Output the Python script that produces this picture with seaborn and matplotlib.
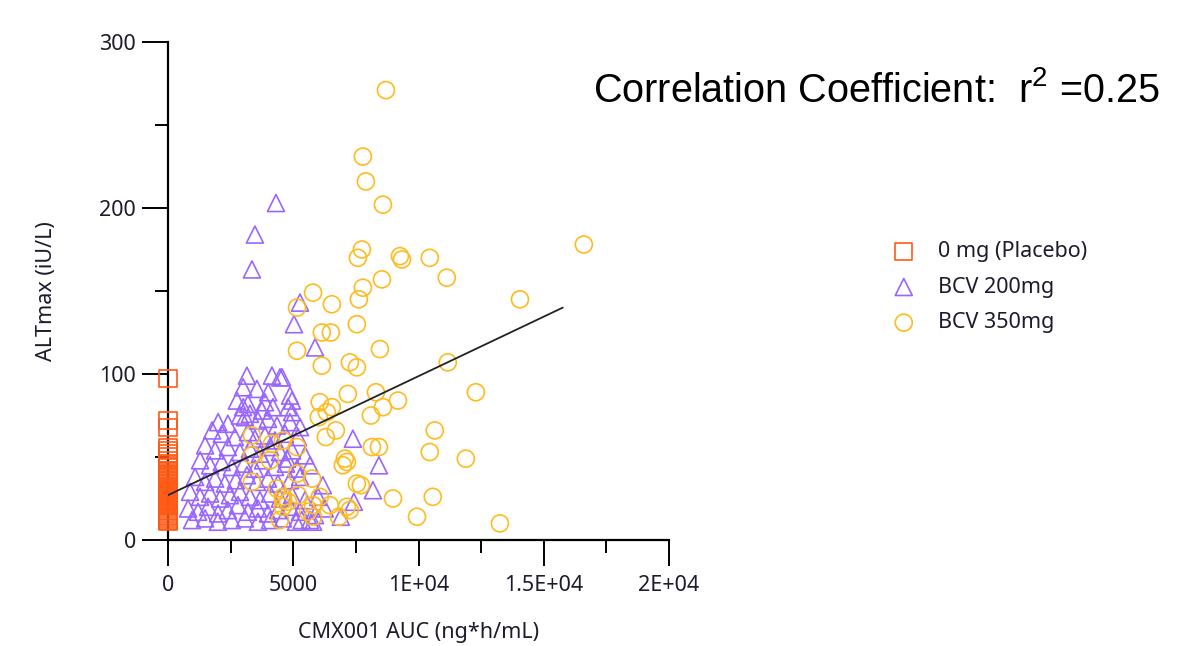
import pandas as pd
import numpy as np
import matplotlib
matplotlib.use('Agg')
import matplotlib.pyplot as plt
import seaborn as sns

# ALTmax vs CMX001 AUC
groups = ["0 mg (Placebo)", "BCV 200mg", "BCV 350mg"]
colors = ["#FF5A14", "#9966FF", "#FFBB1E"]
markers = ["s", "^", "o"]

placebo_alt = [97, 72, 68, 56, 54, 52, 50, 48, 46, 44, 42, 41, 40, 39, 38, 37, 36,
               35, 34, 33, 32, 31, 30, 29, 28, 27, 26, 25, 24, 23, 22, 21, 20,
               19, 18, 17, 16, 15, 14, 13, 12, 11]
placebo_auc = [0] * len(placebo_alt)

bcv200_auc = [4310, 3470, 3350, 5270, 5030, 5870, 7380, 8420, 8180, 6180, 7420, 6900,
              4950, 4950, 4750, 4550,
              3150, 4150, 4470,
              3000, 4000, 4870, 3550,
              2750, 3000, 3190, 3870, 4190, 4790, 3750,
              2000, 2390, 2870, 3070, 3270, 3590, 3990, 4350, 4870, 5270,
              1760, 2150, 2670, 3190, 3470, 3870, 4270, 4670, 5190,
              1480, 1880, 2390, 2870, 3270, 3670, 4070, 4470, 4950, 5470,
              1280, 1680, 2150, 2550, 3030, 3470, 3790, 4270, 4710, 5150, 5670,
              1080, 1480, 1880, 2270, 2710, 3150, 3550, 3990, 4390, 4870, 5270,
              880, 1280, 1680, 2080, 2470, 2870, 3270, 3670, 4070, 4470, 4950, 5470, 5990,
              800, 1200, 1600, 2000, 2390, 2790, 3190, 3590, 3990, 4390, 4870, 5270, 5870, 6260,
              960, 1480, 1990, 2550, 3070, 3590, 4070, 4590, 5110, 5670,
              5340, 5790]
bcv200_alt = [203, 184, 163, 143, 130, 116, 61, 45, 30, 33, 23, 14,
              84, 77, 49, 98,
              99, 99, 98,
              92, 89, 87, 91,
              84, 80, 82, 83, 80, 80, 78,
              71, 70, 75, 74, 76, 72, 73, 69, 71, 68,
              66, 64, 62, 65, 61, 63, 60, 64, 62,
              57, 54, 56, 53, 55, 52, 56, 53, 54, 51,
              48, 45, 47, 44, 46, 43, 48, 44, 46, 43, 45,
              38, 35, 37, 34, 36, 39, 35, 37, 34, 36, 38,
              29, 26, 28, 25, 27, 29, 26, 24, 28, 25, 27, 24, 26,
              19, 17, 20, 16, 18, 21, 17, 19, 16, 18, 20, 17, 15, 19,
              12, 13, 11, 12, 13, 11, 12, 13, 11, 12,
              12, 11]

bcv350_auc = [8700, 7780, 7900, 8580, 16600, 7740, 7580, 9260, 9340, 10450,
              11130, 8540, 7780, 5790, 7620, 14050, 6540, 5150, 7540, 6140,
              6500, 5150, 8460, 6140, 7260, 7540, 11170, 7180, 8300, 12290,
              9180, 6060, 8580, 6540, 6340, 6020, 8100, 6700, 10650, 6300,
              5150, 8140, 8420, 10450, 11890, 7060, 7140, 6980, 5150, 5750,
              7540, 7700, 8980, 10570, 9940, 13250, 6460, 6060, 7140, 7260,
              6820, 5790, 5590, 5790, 4590, 4590, 4790, 5190,
              3350, 4150, 4590, 3350, 4070, 3350, 4350, 4590, 4470]
bcv350_alt = [271, 231, 216, 202, 178, 175, 170, 171, 169, 170,
              158, 157, 152, 149, 145, 145, 142, 140, 130, 125,
              125, 114, 115, 105, 107, 104, 107, 88, 89, 89,
              84, 83, 80, 80, 77, 74, 75, 66, 66, 62,
              56, 56, 56, 53, 49, 49, 47, 45, 40, 37,
              34, 33, 25, 26, 14, 10, 21, 26, 20, 18,
              14, 21, 17, 14, 26, 20, 23, 27,
              63, 58, 60, 51, 48, 35, 31, 24, 12]

# fitted regression line end points
fit_auc = [0, 15760]
fit_alt = [27, 140]
r2_text = r"Correlation Coefficient:  r$^{2}$ =0.25"

x_ticks = [0, 5000, 10000, 15000, 20000]
x_labels = ["0", "5000", "1E+04", "1.5E+04", "2E+04"]
y_ticks = [0, 100, 200, 300]

df = pd.DataFrame({
    "auc": placebo_auc + bcv200_auc + bcv350_auc,
    "alt": placebo_alt + bcv200_alt + bcv350_alt,
    "group": [groups[0]] * len(placebo_alt) + [groups[1]] * len(bcv200_alt)
             + [groups[2]] * len(bcv350_alt),
})

sns.set_theme(style="white")
plt.rcParams['font.family'] = ['Noto Sans', 'DejaVu Sans']
plt.rcParams['mathtext.fontset'] = 'custom'
plt.rcParams['mathtext.rm'] = 'Liberation Sans'
plt.rcParams['mathtext.it'] = 'Liberation Sans'
plt.rcParams['mathtext.default'] = 'regular'
txt_color = "#1c1c2c"

fig = plt.figure(figsize=(11.97, 6.46), dpi=100)
W, H = 1197, 646
ax = fig.add_axes([168 / W, 1 - 540 / H, (669 - 168) / W, (540 - 42) / H])

for g, c, m in zip(groups, colors, markers):
    sub = df[df["group"] == g]
    sns.scatterplot(data=sub, x="auc", y="alt", marker=m, s=150,
                    facecolor="none", edgecolor=c, linewidth=1.2,
                    label=g, ax=ax, clip_on=False, zorder=3)

ax.plot(fit_auc, fit_alt, color="#222222", lw=1.3, zorder=4)

ax.set_xlim(0, 20000)
ax.set_ylim(0, 300)
ax.set_xticks(x_ticks)
ax.set_xticklabels(x_labels)
ax.set_yticks(y_ticks)
ax.set_xticks([2500, 7500, 12500, 17500], minor=True)
ax.set_yticks([50, 150, 250], minor=True)

for s in ["top", "right"]:
    ax.spines[s].set_visible(False)
for s in ["left", "bottom"]:
    ax.spines[s].set_linewidth(1.6)
    ax.spines[s].set_color("black")

ax.tick_params(which="major", length=19, width=1.4, color="black", direction="out",
               labelsize=15.5, labelcolor=txt_color, left=True, bottom=True)
ax.tick_params(which="minor", length=9.5, width=1.4, color="black", direction="out",
               left=True, bottom=True)
ax.tick_params(axis="y", pad=4)
ax.tick_params(axis="x", pad=6)

ax.set_xlabel("CMX001 AUC (ng*h/mL)", fontsize=15.5, color=txt_color)
ax.set_ylabel("ALTmax (iU/L)", fontsize=15.5, color=txt_color)
ax.xaxis.set_label_coords(0.5, -0.165)
ax.yaxis.set_label_coords(-0.222, 0.5)

ax.legend(loc="upper left", bbox_to_anchor=(893 / W, 1 - 241 / H),
          bbox_transform=fig.transFigure, frameon=False, fontsize=15.5,
          handlelength=1.0, handletextpad=1.1, labelspacing=0.68, borderpad=0,
          borderaxespad=0, labelcolor=txt_color)

fig.text(593 / W, 1 - 90 / H, r2_text, fontsize=28.5, family="Liberation Sans",
         color="black", ha="left", va="center")

fig.savefig("out.png", dpi=100, facecolor="white")
